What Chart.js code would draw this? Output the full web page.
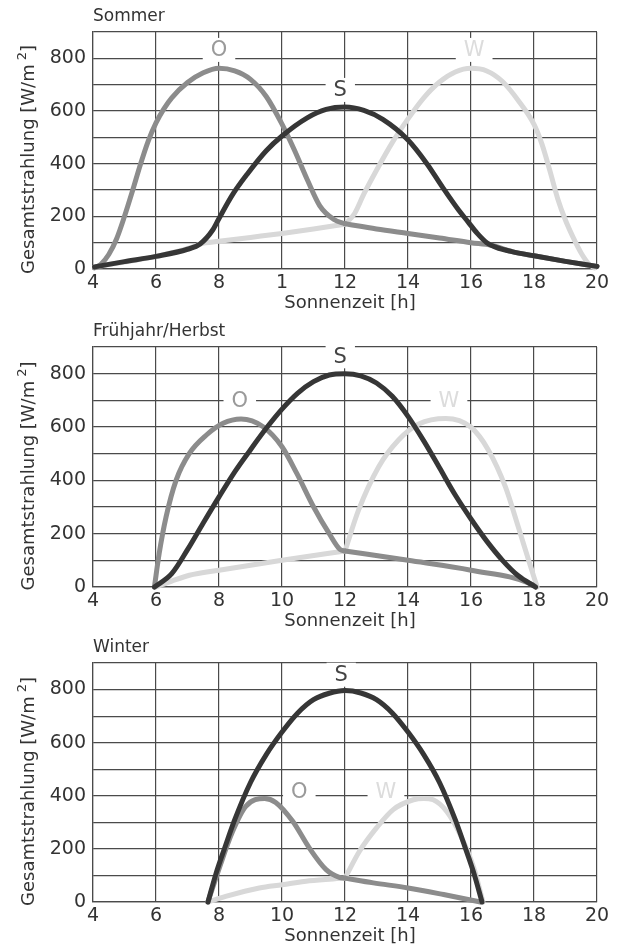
<!DOCTYPE html>
<html>
<head>
<meta charset="utf-8">
<script src="https://cdn.jsdelivr.net/npm/chart.js@4/dist/chart.umd.min.js"></script>
<style>
    body { margin: 0; background: #fff; }
    #wrap { position: relative; width: 621px; height: 948px; }
    canvas { position: absolute; left: 0; }
</style>
</head>
<body>
<div id="wrap">
    <canvas id="sommer" width="621" height="316" style="top:0px"></canvas>
    <canvas id="frueh" width="621" height="314" style="top:316px"></canvas>
    <canvas id="winter" width="621" height="318" style="top:630px"></canvas>
</div>
<script>
// Gesamtstrahlung auf Ost-, Süd- und Westfläche

// Sommer
const sommerOstH  = [4.05, 4.25, 4.5, 4.75, 5, 5.25, 5.5, 5.75, 6, 6.25, 6.5, 7, 7.5, 8, 8.5, 9, 9.5, 10, 10.4, 10.8, 11.2, 11.65, 12, 13, 14, 15, 16, 16.65, 17.3, 18, 19, 20];
const sommerOst   = [4, 18, 55, 115, 200, 295, 395, 485, 555, 608, 650, 708, 745, 762, 752, 720, 655, 550, 450, 340, 240, 188, 172, 152, 135, 118, 100, 90, 66, 50, 29, 10];
const sommerSuedH = [4.05, 5, 6, 7, 7.4, 7.8, 8, 8.45, 8.9, 9.5, 10, 10.8, 11.4, 12, 12.6, 13.2, 14, 14.6, 15.1, 15.6, 15.9, 16.2, 16.5, 16.8, 17.3, 18, 19, 20];
const sommerSued  = [8, 28, 48, 75, 95, 148, 192, 286, 361, 449, 505, 574, 606, 615, 602, 568, 490, 400, 310, 225, 180, 135, 100, 82, 66, 50, 29, 10];
const sommerWestH = [4.05, 6, 7.2, 7.4, 8, 9, 10, 11, 12, 12.3, 12.6, 13, 13.5, 14, 14.5, 15, 15.5, 16, 16.5, 17, 17.5, 18, 18.25, 18.5, 18.75, 19, 19.25, 19.5, 19.75, 19.92];
const sommerWest  = [8, 48, 85, 95, 105, 120, 135, 152, 170, 210, 285, 375, 480, 570, 650, 710, 748, 762, 752, 712, 640, 549, 475, 375, 268, 185, 118, 60, 18, 4];
const sommerTicks = ['4', '6', '8', '1', '12', '14', '16', '18', '20'];

// Frühjahr/Herbst
const fruehOstH  = [5.95, 6.1, 6.32, 6.64, 7.06, 7.6, 8.13, 8.7, 9.4, 10, 10.47, 11, 11.5, 11.85, 12, 14, 16, 17.93, 18.05];
const fruehOst   = [0, 125, 263, 401, 501, 570, 614, 630, 601, 526, 426, 301, 200, 140, 135, 100, 63, 10, 0];
const fruehSuedH = [5.95, 6.5, 7, 7.5, 8, 8.5, 9, 9.5, 10, 10.5, 11, 11.5, 12, 12.5, 13, 13.5, 14, 14.5, 15, 15.5, 16, 16.5, 17, 17.5, 18.05];
const fruehSued  = [0, 50, 140, 240, 338, 432, 515, 595, 667, 727, 770, 795, 800, 792, 765, 715, 640, 548, 447, 345, 255, 172, 100, 42, 0];
const fruehWestH = [6, 6.5, 7.06, 8, 10, 12, 12.43, 13.07, 13.7, 14.34, 15.2, 16, 16.55, 17.09, 17.5, 17.83, 18.1];
const fruehWest  = [0, 22, 44, 63, 100, 135, 288, 451, 551, 611, 632, 599, 514, 376, 226, 100, 0];
const fruehTicks = ['4', '6', '8', '10', '12', '14', '16', '18', '20'];

// Winter
const winterOstH  = [7.65, 8, 8.43, 8.85, 9.45, 9.8, 10.34, 10.87, 11.4, 11.82, 12, 12.9, 14, 15.13, 16.3];
const winterOst   = [0, 125, 265, 360, 390, 375, 304, 203, 122, 93, 90, 72, 53, 28, 0];
const winterSuedH = [7.65, 7.9, 8.2, 8.5, 9, 9.5, 10, 10.5, 11, 11.5, 12, 12.5, 13, 13.5, 14, 14.5, 15, 15.5, 15.8, 16.1, 16.35];
const winterSued  = [0, 105, 210, 310, 450, 555, 640, 712, 762, 786, 796, 787, 762, 712, 640, 555, 450, 310, 210, 105, 0];
const winterWestH = [7.65, 8.21, 9.28, 10, 10.87, 12, 12.46, 13, 13.53, 14.17, 14.5, 14.8, 15.23, 15.66, 16.09, 16.38];
const winterWest  = [0, 21, 53, 65, 80, 90, 191, 279, 348, 385, 390, 385, 341, 253, 128, 0];
const winterTicks = ['4', '6', '8', '10', '12', '14', '16', '18', '20'];

const yTicks = ['0', '', '200', '', '400', '', '600', '', '800', ''];

// Kennbuchstaben O / S / W  [Buchstabe, Stunde, Wert]
const sommerMarks = [['O', 8, 832], ['S', 11.85, 680], ['W', 16.1, 832]];
const fruehMarks  = [['O', 8.66, 700], ['S', 11.85, 865], ['W', 15.3, 700]];
const winterMarks = [['O', 10.55, 415], ['S', 11.88, 856], ['W', 13.3, 415]];

const FONT = '"DejaVu Sans", sans-serif';
const colOst = '#8c8c8c', colSued = '#363636', colWest = '#d8d8d8';
const gridCol = '#4a4a4a';
const markColor = { O: '#9a9a9a', S: '#444444', W: '#dcdcdc' };

// Punkte vor bzw. nach 12 Uhr (Knick der Ost- und Westkurve am Mittag)
function toPoints(hours, values, from, to) {
    var pts = [];
    for (var i = 0; i < hours.length; i++) {
        if (hours[i] >= from && hours[i] <= to) {
            pts.push({ x: hours[i], y: values[i] });
        }
    }
    return pts;
}

function line(points, color, order) {
    return {
        data: points,
        borderColor: color,
        borderWidth: 5,
        borderCapStyle: 'round',
        borderJoinStyle: 'round',
        pointRadius: 0,
        fill: false,
        tension: 0.4,
        cubicInterpolationMode: 'monotone',
        clip: 8,
        order: order
    };
}

function textPlugin(title, marks) {
    return {
        id: 'texte',
        beforeDatasetsDraw: function (chart) {
            const ctx = chart.ctx;
            const xs = chart.scales.x, ys = chart.scales.y;
            ctx.save();
            ctx.font = '21px ' + FONT;
            ctx.textAlign = 'center';
            ctx.textBaseline = 'middle';
            marks.forEach(function (m) {
                const px = xs.getPixelForValue(m[1]);
                const py = ys.getPixelForValue(m[2]);
                const w = ctx.measureText(m[0]).width + 16;
                ctx.fillStyle = '#fff';
                ctx.fillRect(px - w / 2, py - 12, w, 24);
                ctx.fillStyle = markColor[m[0]];
                ctx.fillText(m[0], px, py + 1);
            });
            ctx.restore();
        },
        afterDraw: function (chart) {
            const ctx = chart.ctx;
            const a = chart.chartArea;
            ctx.save();
            ctx.fillStyle = '#333';
            // Überschrift
            ctx.font = '17px ' + FONT;
            ctx.textAlign = 'left';
            ctx.textBaseline = 'middle';
            ctx.fillText(title, a.left, a.top - 15);
            // x-Achse
            ctx.font = '18px ' + FONT;
            ctx.textAlign = 'center';
            ctx.fillText('Sonnenzeit [h]', (a.left + a.right) / 2 + 5, a.bottom + 34);
            // y-Achse mit hochgestellter 2
            ctx.translate(29, (a.top + a.bottom) / 2 + 9);
            ctx.rotate(-Math.PI / 2);
            ctx.textAlign = 'left';
            const t1 = 'Gesamtstrahlung [W/m';
            const w1 = ctx.measureText(t1).width;
            const w3 = ctx.measureText(']').width;
            ctx.font = '13px ' + FONT;
            const w2 = ctx.measureText('2').width;
            const start = -(w1 + 4 + w2 + w3) / 2;
            ctx.fillText('2', start + w1 + 4, -6);
            ctx.font = '18px ' + FONT;
            ctx.fillText(t1, start, 0);
            ctx.fillText(']', start + w1 + 4 + w2, 0);
            ctx.restore();
        }
    };
}

function makeChart(id, title, marks, xLabels, ostH, ost, suedH, sued, westH, west, padTop, xHeight) {
    const el = document.getElementById(id);
    return new Chart(el.getContext('2d'), {
        type: 'line',
        data: {
            datasets: [
                line(toPoints(suedH, sued, 0, 24), colSued, 1),
                line(toPoints(ostH, ost, 0, 12), colOst, 2),
                line(toPoints(ostH, ost, 12, 24), colOst, 2),
                line(toPoints(westH, west, 0, 12), colWest, 3),
                line(toPoints(westH, west, 12, 24), colWest, 3)
            ]
        },
        options: {
            responsive: false,
            animation: false,
            events: [],
            layout: { padding: { top: padTop, right: 24, left: 0, bottom: 0 } },
            plugins: {
                legend: { display: false },
                tooltip: { enabled: false },
                title: { display: false }
            },
            scales: {
                x: {
                    type: 'linear',
                    min: 4,
                    max: 20,
                    afterFit: function (scale) { scale.height = xHeight; },
                    grid: { color: gridCol, lineWidth: 1.2, drawTicks: false },
                    border: { color: gridCol, width: 1.2 },
                    ticks: {
                        stepSize: 2,
                        autoSkip: false,
                        maxRotation: 0,
                        padding: 3,
                        color: '#333',
                        font: { family: FONT, size: 19 },
                        callback: function (value, index) { return xLabels[index]; }
                    }
                },
                y: {
                    min: 0,
                    max: 900,
                    afterFit: function (scale) { scale.width = 93; },
                    grid: { color: gridCol, lineWidth: 1.2, drawTicks: false },
                    border: { color: gridCol, width: 1.2 },
                    ticks: {
                        stepSize: 100,
                        autoSkip: false,
                        padding: 7,
                        color: '#333',
                        font: { family: FONT, size: 19 },
                        callback: function (value, index) { return yTicks[index]; }
                    }
                }
            }
        },
        plugins: [textPlugin(title, marks)]
    });
}

makeChart('sommer', 'Sommer', sommerMarks, sommerTicks,
    sommerOstH, sommerOst, sommerSuedH, sommerSued, sommerWestH, sommerWest, 32, 47);
makeChart('frueh', 'Frühjahr/Herbst', fruehMarks, fruehTicks,
    fruehOstH, fruehOst, fruehSuedH, fruehSued, fruehWestH, fruehWest, 31, 43);
makeChart('winter', 'Winter', winterMarks, winterTicks,
    winterOstH, winterOst, winterSuedH, winterSued, winterWestH, winterWest, 33, 46);
</script>
</body>
</html>
